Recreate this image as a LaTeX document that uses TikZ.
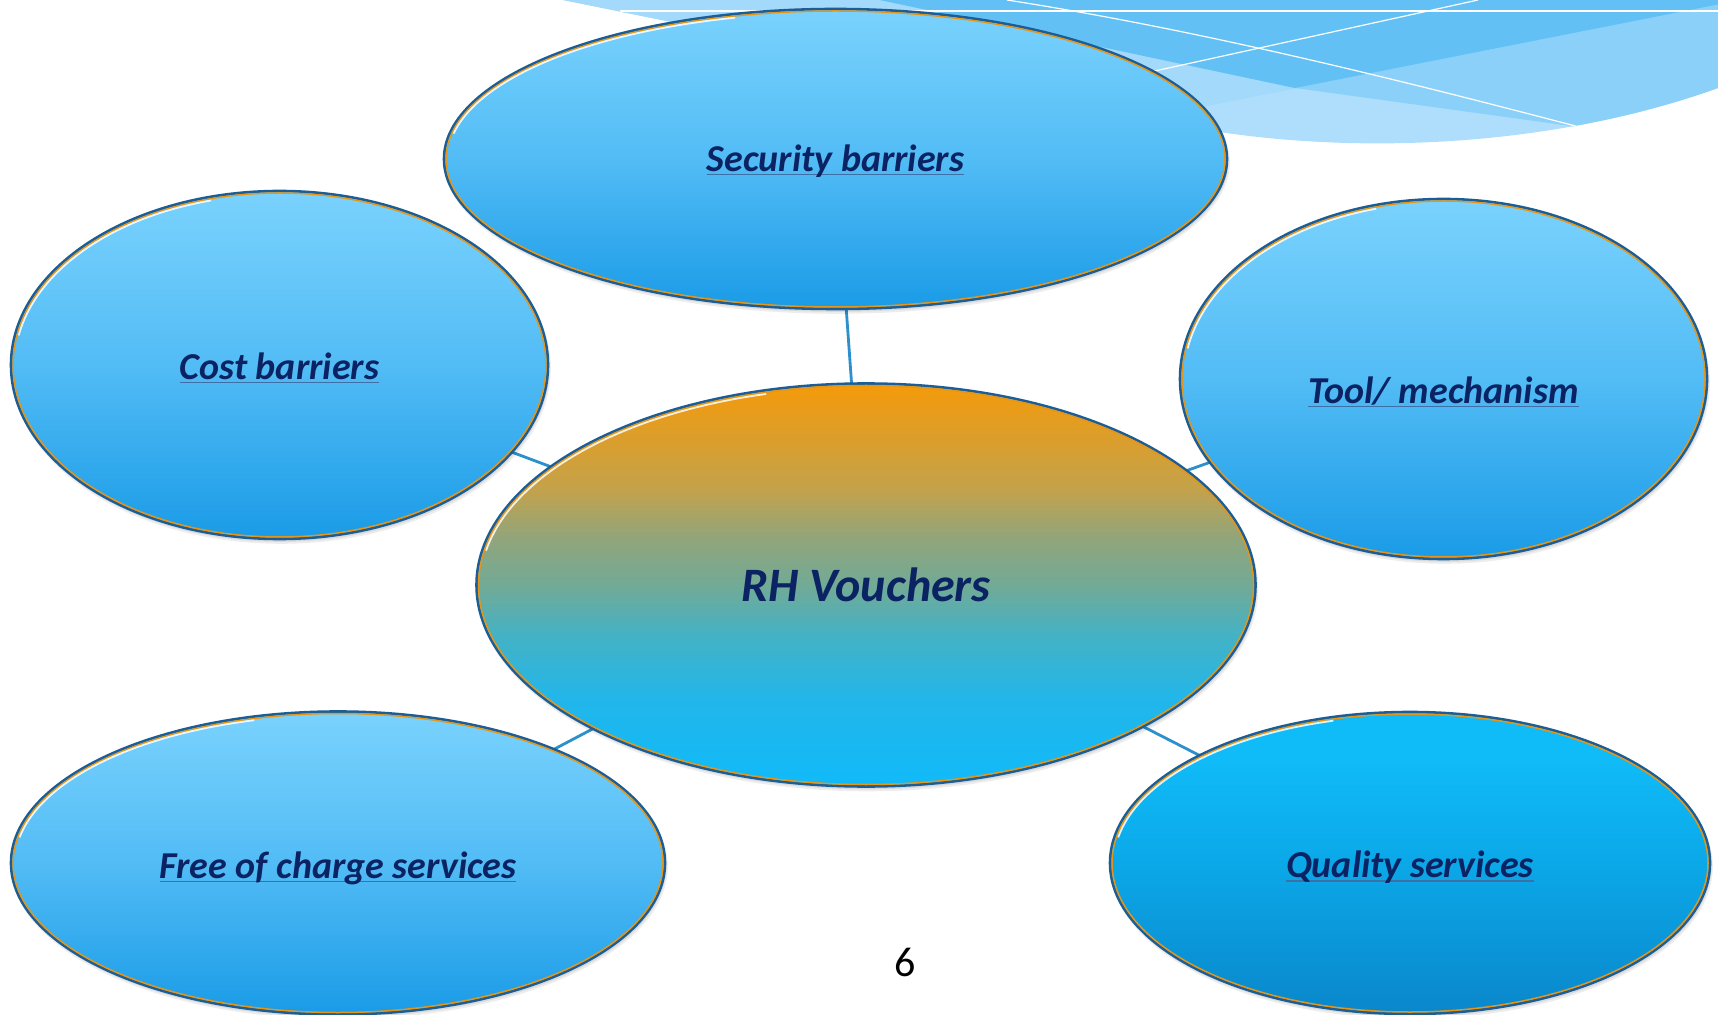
\documentclass[tikz,border=0pt]{standalone}
\usepackage{fontspec}
\setmainfont{Carlito}
\usetikzlibrary{shapes.geometric}
\definecolor{txt}{HTML}{0B2263}
\definecolor{ulc}{HTML}{3E70A8}
\definecolor{rimb}{HTML}{1B5E97}
\definecolor{rimo}{HTML}{E3961A}
\definecolor{conn}{HTML}{2C90CC}
\definecolor{dkA}{HTML}{62C0F5}
\definecolor{mdA}{HTML}{8BD0F8}
\definecolor{mdB}{HTML}{A3D9FA}
\definecolor{ltA}{HTML}{AEDEFB}
\definecolor{bA}{HTML}{1A9BE7}
\definecolor{bB}{HTML}{52BCF5}
\definecolor{bC}{HTML}{7AD2FD}
\definecolor{qA}{HTML}{0A87CB}
\definecolor{qB}{HTML}{0BA8E8}
\definecolor{qC}{HTML}{10BCF8}
\definecolor{rA}{HTML}{10BAF8}
\definecolor{rB}{HTML}{22B6EA}
\definecolor{rC}{HTML}{45B2C3}
\definecolor{rD}{HTML}{72AA96}
\definecolor{rE}{HTML}{92A57A}
\definecolor{rF}{HTML}{C4A24A}
\definecolor{rG}{HTML}{F59A0A}
\pgfdeclareverticalshading{bluesh}{100bp}{color(0bp)=(bA); color(25bp)=(bA); color(50bp)=(bB); color(75bp)=(bC); color(100bp)=(bC)}
\pgfdeclareverticalshading{qualsh}{100bp}{color(0bp)=(qA); color(25bp)=(qA); color(50bp)=(qB); color(68bp)=(qC); color(100bp)=(qC)}
\pgfdeclareverticalshading{rhsh}{100bp}{color(0bp)=(rA); color(25bp)=(rA); color(36bp)=(rB); color(44bp)=(rC); color(50bp)=(rD); color(56bp)=(rE); color(62bp)=(rF); color(75bp)=(rG); color(100bp)=(rG)}
\pgfdeclarelayer{deco}
\pgfdeclarelayer{bg}
\pgfsetlayers{deco,bg,main}
\newcommand\satfont{\bfseries\itshape\fontsize{19}{23}\selectfont}
\newcommand\rhfont{\bfseries\itshape\fontsize{24}{28}\selectfont}
\newcommand\ulin[1]{\setbox0=\hbox{#1}\rlap{\color{ulc}\rule[-0.1em]{\wd0}{0.045em}}\box0}
\newcommand\lowr[2]{\raisebox{-#1}[\height][\depth]{\ulin{#2}}}
\newcommand\bub[7]{%
 \pgfmathsetlengthmacro\srx{#4/2+0.6pt}\pgfmathsetlengthmacro\sry{#5/2+0.6pt}%
 \fill[black,opacity=0.07] ([shift={(0.8pt,-1.8pt)}]#2,#3) ellipse [x radius=\srx, y radius=\sry];
 \pgfmathsetlengthmacro\srx{#4/2+0.1pt}\pgfmathsetlengthmacro\sry{#5/2+0.1pt}%
 \fill[black,opacity=0.08] ([shift={(0.6pt,-1.3pt)}]#2,#3) ellipse [x radius=\srx, y radius=\sry];
 \node[bubble,shading=#6,minimum width=#4,minimum height=#5] (#1) at (#2,#3) {#7};
 \pgfmathsetlengthmacro\irx{#4/2-1.0pt}\pgfmathsetlengthmacro\iry{#5/2-1.0pt}%
 \draw[rimo,line width=0.75pt] (#1.center) ellipse [x radius=\irx, y radius=\iry];
 \pgfmathsetlengthmacro\hrx{#4/2-1.85pt}\pgfmathsetlengthmacro\hry{#5/2-1.85pt}%
 \draw[white,line width=0.9pt,opacity=0.85] ([shift={(105:{\hrx} and {\hry})}]#1.center) arc[start angle=105,end angle=170,x radius=\hrx,y radius=\hry];
}
\begin{document}
\begin{tikzpicture}[x=0.5pt,y=-0.5pt,
 bubble/.style={ellipse, inner sep=0pt, draw=rimb, line width=1.3pt, text=txt, font=\satfont},
 conline/.style={draw=conn, line width=1.4pt},
 decoline/.style={draw=white, line width=0.6pt}]
\useasboundingbox (0,0) rectangle (1718,1015);
\begin{pgfonlayer}{deco}
\fill[white] (0,0) rectangle (1718,1015);
\begin{scope}
\clip (563,0) -- (1718,0) -- (1718,88) .. controls (1540,152) and (1320,158) .. (1150,119) -- cycle;
\fill[ltA] (500,-5) rectangle (1720,200);
\fill[mdB] (500,-5) -- (1720,-5) -- (1720,4) -- (900,167) -- (500,167) -- cycle;
\fill[mdA] (880,0) -- (1295,88) -- (1600,130) -- (1720,150) -- (1720,-5) -- (880,-5) -- cycle;
\fill[dkA] (880,0) -- (1295,88) -- (1720,4) -- (1720,-5) -- (880,-5) -- cycle;
\draw[decoline] (1007,0) .. controls (1200,30) and (1400,80) .. (1583,128);
\draw[decoline] (1000,105) -- (1478,0);
\draw[draw=white, line width=1pt] (620,11) -- (1718,11);
\end{scope}
\end{pgfonlayer}
\bub{sec}{835.5}{159}{391.5pt}{150pt}{bluesh}{\lowr{1.1pt}{Security barriers}}
\bub{cost}{279.5}{365}{268.5pt}{174pt}{bluesh}{\lowr{1.6pt}{Cost barriers}}
\bub{tool}{1443.5}{379}{263.5pt}{180pt}{bluesh}{\lowr{6.6pt}{Tool/ mechanism}}
\bub{free}{338}{863}{327pt}{151.5pt}{bluesh}{\lowr{2.7pt}{Free of charge services}}
\bub{qual}{1410}{863}{300pt}{151pt}{qualsh}{\lowr{2.2pt}{Quality services}}
\bub{rh}{866}{585}{389.5pt}{201.5pt}{rhsh}{\rhfont RH Vouchers}
\begin{pgfonlayer}{bg}
\draw[conline] (sec.center) -- (rh.center);
\draw[conline] (cost.center) -- (rh.center);
\draw[conline] (tool.center) -- (rh.center);
\draw[conline] (free.center) -- (rh.center);
\draw[conline] (qual.center) -- (rh.center);
\end{pgfonlayer}
\node[font=\fontsize{21}{24}\selectfont, text=black] (pg) at (905,962) {6};
\end{tikzpicture}
\end{document}
